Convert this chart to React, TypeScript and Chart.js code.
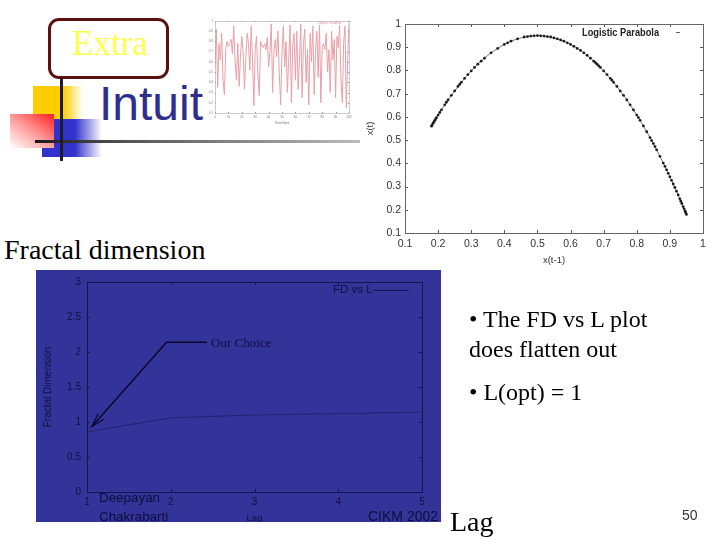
import { useEffect, useRef } from "react"
import { Chart, registerables } from "chart.js"

Chart.register(...registerables)

// top-left time series, read by eye
const seriesValues = [
  0.55, 0.92, 0.35, 0.78, 0.62, 0.88, 0.42, 0.28, 0.72, 0.8, 0.75, 0.78, 0.82, 0.68, 0.95, 0.6, 0.42, 0.78, 0.36, 0.65,
  0.85, 0.7, 0.33, 0.62, 0.88, 0.78, 0.52, 0.95, 0.6, 0.17, 0.72, 0.85, 0.48, 0.27, 0.8, 0.76, 0.74, 0.78, 0.72, 0.84,
  0.55, 0.7, 0.97, 0.3, 0.7, 0.82, 0.65, 0.9, 0.48, 0.18, 0.7, 0.95, 0.55, 0.8, 0.3, 0.62, 0.96, 0.2, 0.75, 0.88,
  0.42, 0.9, 0.33, 0.6, 0.97, 0.25, 0.78, 0.92, 0.4, 0.72, 0.18, 0.88, 0.6, 0.95, 0.28, 0.7, 0.9, 0.45, 0.96, 0.2,
  0.74, 0.78, 0.72, 0.88, 0.5, 0.72, 0.3, 0.9, 0.62, 0.82, 0.25, 0.85, 0.74, 0.96, 0.42, 0.2, 0.78, 0.95, 0.15, 0.62, 0.98,
]
const seriesTicks = [0, 10, 20, 30, 40, 50, 60, 70, 80, 90, 100]

// logistic parabola scatter
const parabolaX = [
  0.18, 0.182, 0.185, 0.188, 0.19, 0.193, 0.195, 0.2, 0.205, 0.21, 0.22, 0.225, 0.23, 0.24, 0.25, 0.26, 0.265, 0.27,
  0.28, 0.29, 0.3, 0.31, 0.32, 0.33, 0.34, 0.36, 0.38, 0.4, 0.41, 0.42, 0.44, 0.46, 0.47, 0.48, 0.49, 0.5, 0.51, 0.52,
  0.53, 0.54, 0.55, 0.56, 0.57, 0.58, 0.59, 0.6, 0.61, 0.62, 0.63, 0.64, 0.65, 0.66, 0.67, 0.675, 0.68, 0.685, 0.69,
  0.7, 0.71, 0.72, 0.725, 0.73, 0.74, 0.75, 0.76, 0.77, 0.78, 0.79, 0.8, 0.805, 0.81, 0.82, 0.83, 0.84, 0.845, 0.85,
  0.855, 0.86, 0.87, 0.88, 0.885, 0.89, 0.895, 0.9, 0.905, 0.91, 0.915, 0.92, 0.925, 0.93, 0.933, 0.936, 0.94, 0.943,
  0.946, 0.948, 0.95,
]
const parabolaY = [
  0.56, 0.565, 0.573, 0.58, 0.585, 0.592, 0.597, 0.608, 0.619, 0.63, 0.652, 0.663, 0.673, 0.693, 0.712, 0.731, 0.74,
  0.749, 0.766, 0.782, 0.798, 0.813, 0.827, 0.84, 0.853, 0.876, 0.895, 0.912, 0.919, 0.926, 0.936, 0.944, 0.946, 0.948,
  0.949, 0.95, 0.949, 0.948, 0.946, 0.944, 0.94, 0.936, 0.931, 0.926, 0.919, 0.912, 0.904, 0.895, 0.886, 0.876, 0.865,
  0.853, 0.84, 0.834, 0.827, 0.82, 0.813, 0.798, 0.782, 0.766, 0.758, 0.749, 0.731, 0.712, 0.693, 0.673, 0.652, 0.63,
  0.608, 0.597, 0.585, 0.561, 0.536, 0.511, 0.498, 0.485, 0.472, 0.458, 0.43, 0.401, 0.387, 0.372, 0.357, 0.342, 0.327,
  0.311, 0.296, 0.28, 0.264, 0.247, 0.237, 0.227, 0.214, 0.204, 0.194, 0.187, 0.18,
]
const parabolaTicks = [0.1, 0.2, 0.3, 0.4, 0.5, 0.6, 0.7, 0.8, 0.9, 1]

// fractal dimension vs lag
const lags = [1, 2, 3, 4, 5]
const fractalDim = [0.86, 1.06, 1.1, 1.12, 1.14]
const dimTicks = [0, 0.5, 1, 1.5, 2, 2.5, 3]
const calloutLag = [2.43, 1.95, 1.056]
const calloutDim = [2.14, 2.14, 0.933]
const headLag = [1.135, 1.056, 1.2]
const headDim = [1.12, 0.933, 1.04]

const SANS = '"Liberation Sans", Arial, sans-serif'
const SERIF = '"Liberation Serif", "Times New Roman", serif'

// gnuplot style: small ticks pointing into the plot on all four sides
const innerTicks = (len: number, color: string) => ({
  id: "innerTicks",
  afterDatasetsDraw(chart: any) {
    const { ctx, chartArea: a, scales } = chart
    ctx.save()
    ctx.strokeStyle = color
    ctx.lineWidth = 1
    ctx.beginPath()
    scales.x.ticks.forEach((t: any) => {
      const p = Math.round(scales.x.getPixelForValue(t.value)) + 0.5
      ctx.moveTo(p, a.bottom)
      ctx.lineTo(p, a.bottom - len)
      ctx.moveTo(p, a.top)
      ctx.lineTo(p, a.top + len)
    })
    scales.y.ticks.forEach((t: any) => {
      const p = Math.round(scales.y.getPixelForValue(t.value)) + 0.5
      ctx.moveTo(a.left, p)
      ctx.lineTo(a.left + len, p)
      ctx.moveTo(a.right, p)
      ctx.lineTo(a.right - len, p)
    })
    ctx.stroke()
    ctx.restore()
  },
})

const frame = (color: string, width: number) => ({
  id: "frame",
  afterDraw(chart: any) {
    const { ctx, chartArea: a } = chart
    ctx.save()
    ctx.strokeStyle = color
    ctx.lineWidth = width
    ctx.strokeRect(a.left + 0.5, a.top + 0.5, a.right - a.left, a.bottom - a.top)
    ctx.restore()
  },
})

type AxisOpts = {
  min: number
  max: number
  ticks: number[]
  size: number
  color: string
  font: number
  title?: string
  titleFont?: number
  titlePad?: number
  pad?: number
}

function axis(o: AxisOpts, horizontal: boolean) {
  const tp = o.titlePad ?? 0
  return {
    type: "linear",
    min: o.min,
    max: o.max,
    grid: { display: false, drawTicks: false },
    border: { display: false },
    afterBuildTicks: (s: any) => {
      s.ticks = o.ticks.map((value) => ({ value }))
    },
    afterFit: (s: any) => {
      if (horizontal) s.height = o.size
      else s.width = o.size
    },
    ticks: {
      color: o.color,
      font: { family: SANS, size: o.font },
      padding: o.pad ?? 4,
      maxRotation: 0,
      autoSkip: false,
      callback: (v: any) => String(v),
    },
    title: {
      display: !!o.title,
      text: o.title,
      color: o.color,
      font: { family: SANS, size: o.titleFont ?? o.font },
      padding: { top: tp, bottom: tp },
    },
  }
}

const text = (
  left: number,
  top: number,
  size: number,
  family: string,
  color: string,
  extra: any = {},
) => ({
  position: "absolute" as const,
  left,
  top,
  fontSize: size,
  fontFamily: family,
  color,
  lineHeight: 1,
  whiteSpace: "nowrap" as const,
  ...extra,
})

export default function App() {
  const seriesRef = useRef<HTMLCanvasElement>(null)
  const parabolaRef = useRef<HTMLCanvasElement>(null)
  const fractalRef = useRef<HTMLCanvasElement>(null)

  useEffect(() => {
    const series = new Chart(seriesRef.current!, {
      type: "line",
      data: {
        datasets: [
          {
            data: seriesValues.map((y, i) => ({ x: i, y })),
            borderColor: "#e9a0a8",
            borderWidth: 1,
            pointRadius: 0,
            tension: 0,
          },
        ],
      },
      options: {
        animation: false,
        responsive: false,
        layout: { padding: { top: 6, right: 6, left: 0, bottom: 0 } },
        plugins: { legend: { display: false }, tooltip: { enabled: false } },
        scales: {
          x: axis({ min: 0, max: 100, ticks: seriesTicks, size: 12, color: "#777", font: 3, title: "Time/Index", titleFont: 3, pad: 2 }, true),
          y: axis({ min: 0.1, max: 1, ticks: parabolaTicks, size: 10, color: "#777", font: 3, pad: 2 }, false),
        },
      } as any,
      plugins: [frame("#aaa", 0.6), innerTicks(1, "#888")],
    })

    const parabola = new Chart(parabolaRef.current!, {
      type: "scatter",
      data: {
        datasets: [
          {
            data: parabolaX.map((x, i) => ({ x, y: parabolaY[i] })),
            backgroundColor: "#1c1c1c",
            borderColor: "#777",
            borderWidth: 1,
            showLine: true,
            pointBorderWidth: 0,
            pointRadius: 1.4,
          },
        ],
      },
      options: {
        animation: false,
        responsive: false,
        layout: { padding: { top: 14, right: 17, left: 0, bottom: 0 } },
        plugins: { legend: { display: false }, tooltip: { enabled: false } },
        scales: {
          x: axis({ min: 0.1, max: 1, ticks: parabolaTicks, size: 39, color: "#333", font: 10.5, title: "x(t-1)", titleFont: 9.5, titlePad: 6, pad: 5 }, true),
          y: axis({ min: 0.1, max: 1, ticks: parabolaTicks, size: 43, color: "#333", font: 10.5, title: "x(t)", titleFont: 9.5, titlePad: 3, pad: 4 }, false),
        },
      } as any,
      plugins: [frame("#666", 1), innerTicks(3, "#555")],
    })

    const fractal = new Chart(fractalRef.current!, {
      type: "line",
      data: {
        datasets: [
          {
            data: lags.map((x, i) => ({ x, y: fractalDim[i] })),
            borderColor: "#22226f",
            borderWidth: 1,
            pointRadius: 0,
          },
          {
            data: calloutLag.map((x, i) => ({ x, y: calloutDim[i] })),
            borderColor: "#08082a",
            borderWidth: 1.4,
            pointRadius: 0,
          },
          {
            data: headLag.map((x, i) => ({ x, y: headDim[i] })),
            borderColor: "#08082a",
            borderWidth: 1.2,
            pointRadius: 0,
          },
        ],
      },
      options: {
        animation: false,
        responsive: false,
        layout: { padding: { top: 12, right: 19, left: 0, bottom: 0 } },
        plugins: { legend: { display: false }, tooltip: { enabled: false } },
        scales: {
          x: axis({ min: 1, max: 5, ticks: lags, size: 30, color: "#10103f", font: 10, title: "Lag", titleFont: 9.5, titlePad: -2, pad: 4 }, true),
          y: axis({ min: 0, max: 3, ticks: dimTicks, size: 51, color: "#10103f", font: 10, title: "Fractal Dimension", titleFont: 10, titlePad: 6, pad: 6 }, false),
        },
      } as any,
      plugins: [frame("#14144f", 1), innerTicks(3, "#14144f")],
    })

    return () => {
      series.destroy()
      parabola.destroy()
      fractal.destroy()
    }
  }, [])

  return (
    <div style={{ position: "fixed", left: 0, top: 0, width: 720, height: 540, background: "#fff", overflow: "hidden" }}>
      {/* slide template decoration */}
      <div style={{ position: "absolute", left: 33, top: 86, width: 50, height: 33, background: "linear-gradient(to right, #ffcc00 0%, #ffcc00 60%, #ffffff 100%)" }} />
      <div style={{ position: "absolute", left: 42, top: 119, width: 60, height: 38, background: "linear-gradient(to right, #3333cc 0%, #3333cc 55%, #ffffff 100%)" }} />
      <div style={{ position: "absolute", left: 10, top: 114, width: 44, height: 34, background: "linear-gradient(215deg, #ff1f1f 0%, #ff9a9a 50%, #ffffff 100%)" }} />
      <div style={{ position: "absolute", left: 35, top: 140, width: 325, height: 3, background: "linear-gradient(to right, #1c1420 0%, #333 10%, #666 40%, #bbbbbb 100%)" }} />
      <div style={{ position: "absolute", left: 60, top: 78, width: 3, height: 83, background: "#1c1c2c" }} />
      <div style={{ position: "absolute", left: 48, top: 18, width: 115, height: 55, border: "3px solid #5a1010", borderRadius: 11, background: "#fff" }} />
      <div style={text(72, 26, 35, SERIF, "#ffff4d")}>Extra</div>
      <div style={text(99, 80, 48, SANS, "#2e2e8c")}>Intuit</div>

      <canvas ref={seriesRef} width={150} height={110} style={{ position: "absolute", left: 205, top: 15, filter: "blur(0.5px)" }} />
      <div style={text(318, 22, 3, SANS, "#e58d98")}>Logistic Parabola</div>

      <canvas ref={parabolaRef} width={358} height={262} style={{ position: "absolute", left: 362, top: 10 }} />
      <div style={text(582, 27, 10.5, SANS, "#222", { fontWeight: 700, transform: "scaleX(0.88)", transformOrigin: "left" })}>Logistic Parabola</div>
      <div style={{ position: "absolute", left: 676, top: 32, width: 4, height: 1, background: "#666" }} />

      <div style={text(4, 236, 28, SERIF, "#000")}>Fractal dimension</div>

      <canvas ref={fractalRef} width={405} height={252} style={{ position: "absolute", left: 36, top: 270, background: "#333399" }} />
      <div style={text(333, 284, 11.5, SANS, "#10103f")}>FD vs L</div>
      <div style={{ position: "absolute", left: 373, top: 290, width: 36, height: 1, background: "#14144f" }} />
      <div style={text(211, 336, 13, SERIF, "#10103f")}>Our Choice</div>
      <div style={text(99, 491, 13.4, SANS, "#0e0e3c")}>Deepayan</div>
      <div style={{ position: "absolute", left: 0, top: 0, width: 720, height: 522, overflow: "hidden" }}>
        <div style={text(99, 510, 13.4, SANS, "#0e0e3c")}>Chakrabarti</div>
        <div style={text(368, 509, 14, SANS, "#0e0e3c")}>CIKM 2002</div>
      </div>

      <div style={text(469, 307, 24, SERIF, "#000")}>• The FD vs L plot</div>
      <div style={text(469, 337, 24, SERIF, "#000")}>does flatten out</div>
      <div style={text(469, 380, 24, SERIF, "#000")}>• L(opt) = 1</div>
      <div style={text(450, 508, 28, SERIF, "#000")}>Lag</div>
      <div style={text(682, 508, 14, SANS, "#333")}>50</div>
    </div>
  )
}
